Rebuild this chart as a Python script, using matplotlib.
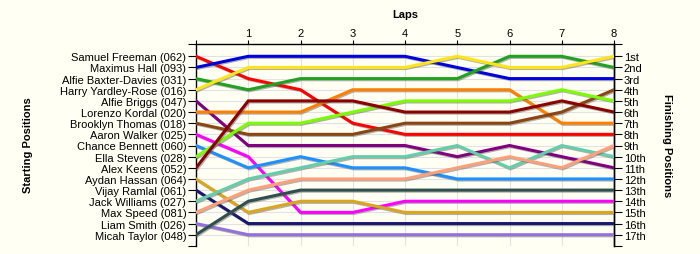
import matplotlib
matplotlib.use("Agg")
import matplotlib.pyplot as plt
import matplotlib.patheffects as pe

plt.rcParams['font.family'] = ['Liberation Sans', 'DejaVu Sans']

laps = [0, 1, 2, 3, 4, 5, 6, 7, 8]
drivers = [
    "Samuel Freeman (062)", "Maximus Hall (093)", "Alfie Baxter-Davies (031)",
    "Harry Yardley-Rose (016)", "Alfie Briggs (047)", "Lorenzo Kordal (020)",
    "Brooklyn Thomas (018)", "Aaron Walker (025)", "Chance Bennett (060)",
    "Ella Stevens (028)", "Alex Keens (052)", "Aydan Hassan (064)",
    "Vijay Ramlal (061)", "Jack Williams (027)", "Max Speed (081)",
    "Liam Smith (026)", "Micah Taylor (048)",
]
colors = [
    "#FF0000", "#0000DD", "#22A022", "#FFE41A", "#800080", "#FF8000",
    "#8B4513", "#FF00FF", "#1E90FF", "#7CFC00", "#8B0000", "#DAA520",
    "#191970", "#66CDAA", "#FFA07A", "#9370DB", "#2F4F4F",
]
positions = [
    [1, 3, 4, 7, 8, 8, 8, 8, 8],
    [2, 1, 1, 1, 1, 2, 3, 3, 3],
    [3, 4, 3, 3, 3, 3, 1, 1, 2],
    [4, 2, 2, 2, 2, 1, 2, 2, 1],
    [5, 9, 9, 9, 9, 10, 9, 10, 11],
    [6, 6, 6, 4, 4, 4, 4, 7, 7],
    [7, 8, 8, 8, 7, 7, 7, 6, 4],
    [8, 10, 15, 15, 14, 14, 14, 14, 14],
    [9, 11, 10, 11, 11, 12, 12, 12, 12],
    [10, 7, 7, 6, 5, 5, 5, 4, 5],
    [11, 5, 5, 5, 6, 6, 6, 5, 6],
    [12, 15, 14, 14, 15, 15, 15, 15, 15],
    [13, 16, 16, 16, 16, 16, 16, 16, 16],
    [14, 12, 11, 10, 10, 9, 11, 9, 10],
    [15, 13, 12, 12, 12, 11, 10, 11, 9],
    [16, 17, 17, 17, 17, 17, 17, 17, 17],
    [17, 14, 13, 13, 13, 13, 13, 13, 13],
]
finish_labels = ["1st", "2nd", "3rd", "4th", "5th", "6th", "7th", "8th", "9th",
                 "10th", "11th", "12th", "13th", "14th", "15th", "16th", "17th"]

bg = "#FFFFF4"
fig = plt.figure(figsize=(7, 2.55), dpi=100, facecolor=bg)
ax = fig.add_axes([196/700, 1-246.5/255, (614-196)/700, (246.5-44.7)/255])
ax.set_facecolor(bg)

n = len(drivers)
for i in range(n):
    ax.plot(laps, positions[i], color=colors[i], lw=2.2, solid_joinstyle='miter',
            path_effects=[pe.SimpleLineShadow(offset=(0.8, -0.8), shadow_color='#555555', alpha=0.45),
                          pe.Normal()], zorder=3 + i * 0.01)

ax.set_xlim(0, 8)
top = 1 - 12.6/11.15
bot = 17 + 10.8/11.15
ax.set_ylim(bot, top)

# grid
for p in range(1, n + 1):
    ax.axhline(p, color='#E2E2E2', lw=0.8, zorder=1)
for l in laps[1:-1]:
    ax.axvline(l, color='#E2E2E2', lw=0.8, zorder=1)

ax.xaxis.tick_top()
ax.set_xticks(laps)
ax.set_xticklabels([''] + [str(l) for l in laps[1:]], fontsize=8)
ax.tick_params(axis='x', length=3, width=0.8, pad=1)

ax.set_yticks(range(1, n + 1))
ax.set_yticklabels(drivers, fontsize=8)
ax.set_yticks([top, bot], minor=True)
ax.tick_params(axis='y', which='both', length=6, width=0.8, pad=1)

for s in ['bottom']:
    ax.spines[s].set_visible(False)
for s in ['left', 'right', 'top']:
    ax.spines[s].set_linewidth(1.0)

sec = ax.secondary_yaxis('right')
sec.set_yticks(range(1, n + 1))
sec.set_yticklabels(finish_labels, fontsize=8)
sec.set_yticks([top, bot], minor=True)
sec.tick_params(axis='y', which='both', length=6, width=0.8, pad=1)
sec.spines['right'].set_linewidth(1.0)

fig.text(28/700, 1-145.5/255, "Starting Positions", rotation=90, ha='center', va='center',
         fontsize=8, fontweight='bold')
fig.text(667/700, 1-145.5/255, "Finishing Positions", rotation=-90, ha='center', va='center',
         fontsize=8, fontweight='bold')
fig.text(405/700, 1-15/255, "Laps", ha='center', va='center', fontsize=8, fontweight='bold')

fig.savefig("out.png", dpi=100, facecolor=bg)
